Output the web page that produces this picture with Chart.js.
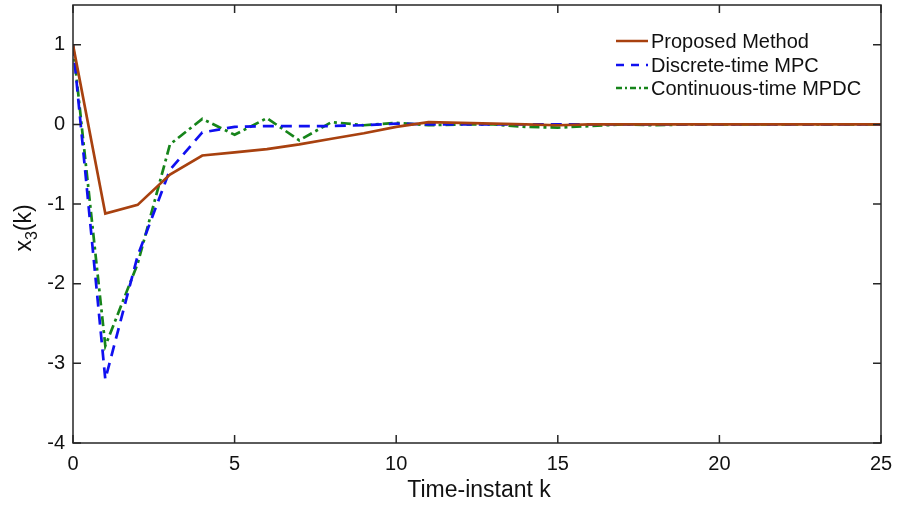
<!DOCTYPE html>
<html><head><meta charset="utf-8">
<script src="https://cdn.jsdelivr.net/npm/chart.js@4/dist/chart.umd.min.js"></script>
<style>html,body{margin:0;padding:0;background:#fff}#wrap{width:900px;height:505px}</style>
</head><body><div id="wrap"><canvas id="c" width="900" height="505"></canvas></div>
<script>
const k = [0,1,2,3,4,5,6,7,8,9,10,11,12,13,14,15,16,17,18,19,20,21,22,23,24,25];
const proposed = [1,-1.12,-1.01,-0.63,-0.39,-0.35,-0.31,-0.25,-0.18,-0.11,-0.03,0.03,0.02,0.01,0.0,-0.01,0,0,0,0,0,0,0,0,0,0];
const discrete = [1,-3.2,-1.65,-0.57,-0.1,-0.03,-0.02,-0.02,-0.02,-0.01,0.01,0,0,0,0,0,0,0,0,0,0,0,0,0,0,0];
const continuous = [1,-2.78,-1.75,-0.25,0.07,-0.13,0.08,-0.2,0.03,-0.01,0.02,-0.01,0,0,-0.03,-0.04,-0.02,0,-0.01,0,0,0,0,0,0,0];
const xTicks = [0,5,10,15,20,25];
const yTicks = [-4,-3,-2,-1,0,1];
const seriesNames = ['Proposed Method','Discrete-time MPC','Continuous-time MPDC'];
const xTitle = 'Time-instant k';

const SANS = "'Liberation Sans',Arial,sans-serif";
const colors = ['#A8410F','#1010F0','#16841A'];
const dashes = [[],[11,7],[10,4,3,4]];

const toPts = arr => arr.map((v,i)=>({x:k[i],y:v}));

const framePlugin = {
  id:'frame',
  afterDatasetsDraw(chart){
    const {ctx, chartArea:a, scales} = chart;
    ctx.save();
    ctx.strokeStyle='#262626'; ctx.lineWidth=1.5; ctx.setLineDash([]);
    ctx.strokeRect(a.left,a.top,a.right-a.left,a.bottom-a.top);
    const L=8;
    ctx.beginPath();
    xTicks.forEach(t=>{const x=scales.x.getPixelForValue(t);
      ctx.moveTo(x,a.bottom);ctx.lineTo(x,a.bottom-L);
      ctx.moveTo(x,a.top);ctx.lineTo(x,a.top+L);});
    yTicks.forEach(t=>{const y=scales.y.getPixelForValue(t);
      ctx.moveTo(a.left,y);ctx.lineTo(a.left+L,y);
      ctx.moveTo(a.right,y);ctx.lineTo(a.right-L,y);});
    ctx.stroke();
    // legend
    ctx.font = "20px "+SANS;
    ctx.textBaseline='middle'; ctx.textAlign='left';
    const lx0=616, lx1=648, ly=[41,65,88];
    chart.data.datasets.forEach((d,i)=>{
      ctx.strokeStyle=colors[i]; ctx.lineWidth=2.5; ctx.setLineDash(i===1?[8,7]:(i===2?[6,3,2,3]:[]));
      ctx.beginPath(); ctx.moveTo(lx0,ly[i]); ctx.lineTo(lx1,ly[i]); ctx.stroke();
      ctx.setLineDash([]);
      ctx.fillStyle='#111'; ctx.fillText(d.label, lx1+3, ly[i]+1);
    });
    // y title
    ctx.save();
    ctx.translate(31,(a.top+a.bottom)/2+4);
    ctx.rotate(-Math.PI/2);
    ctx.fillStyle='#111';
    ctx.font="23px "+SANS;
    const w1=ctx.measureText('x').width;
    ctx.font="16px "+SANS; const w2=ctx.measureText('3').width;
    ctx.font="23px "+SANS; const w3=ctx.measureText('(k)').width;
    let sx=-(w1+w2+w3)/2;
    ctx.textAlign='left'; ctx.textBaseline='alphabetic';
    ctx.fillText('x',sx,0); sx+=w1;
    ctx.font="16px "+SANS; ctx.fillText('3',sx,6); sx+=w2;
    ctx.font="23px "+SANS; ctx.fillText('(k)',sx,0);
    ctx.restore();
    // x title
    ctx.font="23px "+SANS; ctx.textAlign='center'; ctx.textBaseline='middle';
    ctx.fillStyle='#111';
    ctx.fillText(xTitle,(a.left+a.right)/2+2,491);
    ctx.restore();
  }
};

new Chart(document.getElementById('c'),{
  type:'line',
  data:{datasets:[
    {label:seriesNames[0],data:toPts(proposed),borderColor:colors[0],borderWidth:2.7,borderDash:dashes[0],pointRadius:0,tension:0,fill:false},
    {label:seriesNames[1],data:toPts(discrete),borderColor:colors[1],borderWidth:2.7,borderDash:dashes[1],pointRadius:0,tension:0,fill:false},
    {label:seriesNames[2],data:toPts(continuous),borderColor:colors[2],borderWidth:2.7,borderDash:dashes[2],pointRadius:0,tension:0,fill:false}
  ]},
  options:{
    responsive:false,animation:false,
    layout:{padding:{left:0,right:19,top:5,bottom:0}},
    plugins:{legend:{display:false},tooltip:{enabled:false}},
    scales:{
      x:{type:'linear',min:0,max:25,
        afterBuildTicks:s=>{s.ticks=xTicks.map(v=>({value:v}));},
        afterFit:s=>{s.height=62;s.paddingLeft=0;s.paddingRight=0;},
        grid:{display:false,drawTicks:false},border:{display:false},
        ticks:{padding:9,color:'#111',font:{family:SANS,size:20},maxRotation:0}},
      y:{type:'linear',min:-4,max:1.5,
        afterBuildTicks:s=>{s.ticks=yTicks.map(v=>({value:v}));},
        afterFit:s=>{s.width=73;s.paddingTop=0;s.paddingBottom=0;},
        grid:{display:false,drawTicks:false},border:{display:false},
        ticks:{padding:8,color:'#111',font:{family:SANS,size:20}}}
    }
  },
  plugins:[framePlugin]
});
</script></body></html>
